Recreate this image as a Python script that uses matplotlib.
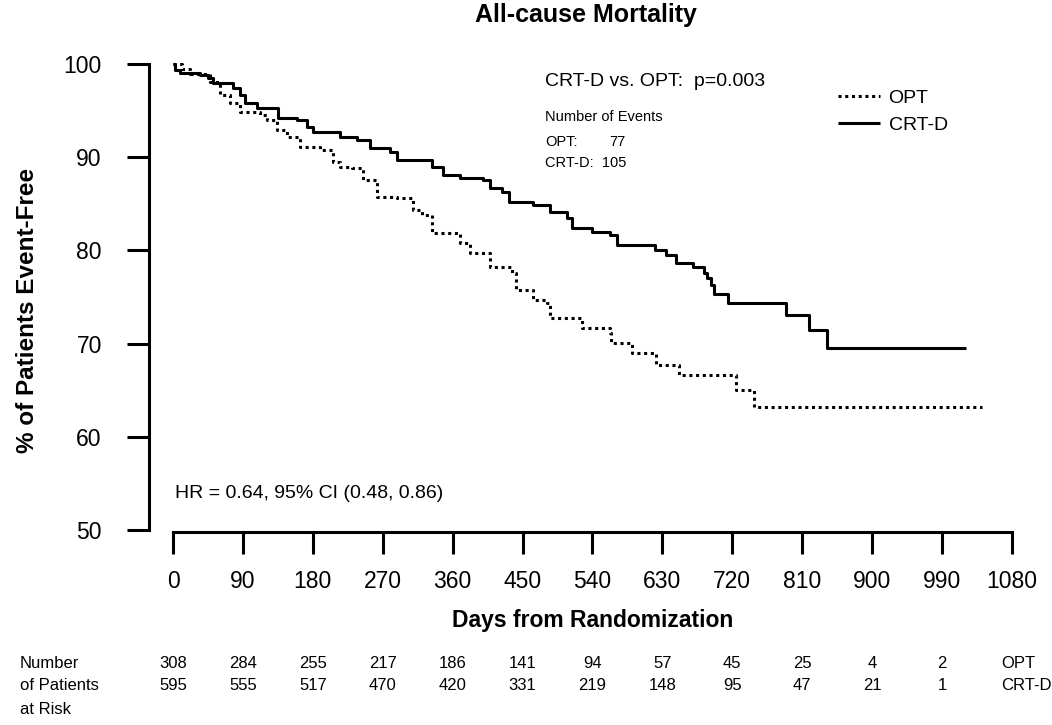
import matplotlib
matplotlib.use("Agg")
import matplotlib.pyplot as plt
from matplotlib.lines import Line2D
import matplotlib.transforms as mtrans

plt.rcParams['font.family'] = ['Liberation Sans Narrow', 'Liberation Sans', 'DejaVu Sans']

# ---- data ----
title = "All-cause Mortality"
x_ticks = [0, 90, 180, 270, 360, 450, 540, 630, 720, 810, 900, 990, 1080]
y_ticks = [50, 60, 70, 80, 90, 100]

crtd_days = [0, 2.6, 9, 35, 45, 51, 77, 86, 93, 108, 135, 159, 172, 180, 215, 237, 253, 279, 288, 334,
             347, 369, 399, 408, 424, 433, 463, 485, 507, 513, 540, 562, 572, 620, 635, 647, 669, 684, 688, 693,
             697, 714, 789, 819, 842, 1021]
crtd_vals = [100, 99.3, 99.0, 98.8, 98.5, 98.0, 97.4, 96.7, 95.8, 95.3, 94.2, 94.0, 93.2, 92.7, 92.2, 91.8, 91.0, 90.6, 89.7, 88.9,
             88.1, 87.8, 87.6, 86.7, 86.3, 85.2, 84.9, 84.1, 83.5, 82.4, 82.0, 81.7, 80.6, 80.0, 79.5, 78.6, 78.2, 77.6, 77.0, 76.3,
             75.3, 74.4, 73.1, 71.5, 69.5, 69.5]

opt_days = [0, 12, 22, 48, 60, 73, 86, 112, 121, 134, 147, 163, 189, 206, 215, 231, 244, 262, 288, 309,
            321, 334, 369, 382, 408, 437, 442, 463, 481, 485, 527, 562, 564, 591, 622, 652, 725, 748, 1041]
opt_vals = [100, 99.5, 98.9, 98.1, 96.7, 95.8, 94.8, 94.5, 94.0, 92.9, 92.2, 91.1, 90.8, 89.5, 88.9, 88.8, 87.6, 85.7, 85.6, 84.3,
            83.8, 81.9, 80.8, 79.7, 78.2, 77.6, 75.8, 74.7, 74.4, 72.7, 71.7, 71.1, 70.1, 69.0, 67.7, 66.6, 65.0, 63.2, 63.2]

risk_days = [0, 90, 180, 270, 360, 450, 540, 630, 720, 810, 900, 990]
risk_opt = [308, 284, 255, 217, 186, 141, 94, 57, 45, 25, 4, 2]
risk_crtd = [595, 555, 517, 470, 420, 331, 219, 148, 95, 47, 21, 1]

events_opt = 77
events_crtd = 105

# ---- figure ----
W, H = 1052, 725
fig = plt.figure(figsize=(W / 100, H / 100), dpi=100)

def fx(px):
    return px / W

def fy(py):
    return 1 - py / H

ax_l, ax_r, ax_t, ax_b = 149, 1014, 62, 532
ax = fig.add_axes([fx(ax_l), fy(ax_b), fx(ax_r - ax_l), (ax_b - ax_t) / H])
ax.set_xlim(-30.9, 1082.6)
ax.set_ylim(49.79, 100.21)

for s in ['top', 'right']:
    ax.spines[s].set_visible(False)
ax.spines['left'].set_bounds(50, 100)
ax.spines['bottom'].set_bounds(0, 1080)
for s in ['left', 'bottom']:
    ax.spines[s].set_linewidth(2.2)
    ax.spines[s].set_capstyle('projecting')

ax.set_xticks(x_ticks)
ax.set_yticks(y_ticks)
ax.tick_params(axis='both', direction='out', length=16, width=2.2, labelsize=16.5)
ax.tick_params(axis='y', pad=18)
ax.tick_params(axis='x', pad=11)

ax.step(crtd_days, crtd_vals, where='post', color='black', lw=2.2, solid_capstyle='butt', label='CRT-D')
ax.step(opt_days, opt_vals, where='post', color='black', lw=2.2, linestyle=(0, (1, 1.2)),
        dash_capstyle='butt', label='OPT')

# titles / labels
fig.text(fx(586), fy(15), title, ha='center', va='center', fontsize=18, fontweight='bold')
fig.text(fx(28), fy(310), "% of Patients Event-Free", ha='center', va='center', rotation=90,
         fontsize=17.5, fontweight='bold')
fig.text(fx(593), fy(621), "Days from Randomization", ha='center', va='center', fontsize=16.5, fontweight='bold')

# annotations
fig.text(fx(545), fy(82), "CRT-D vs. OPT:  p=0.003", ha='left', va='center', fontsize=14)
fig.text(fx(545), fy(117), "Number of Events", ha='left', va='center', fontsize=10.5)
fig.text(fx(545), fy(142), "OPT:", ha='left', va='center', fontsize=10.5)
fig.text(fx(609), fy(142), f"{events_opt}", ha='left', va='center', fontsize=10.5)
fig.text(fx(545), fy(163), f"CRT-D:  {events_crtd}", ha='left', va='center', fontsize=10.5)
fig.text(fx(175), fy(493), "HR = 0.64, 95% CI (0.48, 0.86)", ha='left', va='center', fontsize=14)

# legend
handles = [Line2D([], [], color='black', lw=2.2, linestyle=(0, (1, 1.2)), dash_capstyle='butt'),
           Line2D([], [], color='black', lw=2.2, solid_capstyle='butt')]
ax.legend(handles, ['OPT', 'CRT-D'], loc='upper left', bbox_to_anchor=(fx(838), fy(89)),
          bbox_transform=fig.transFigure, frameon=False, fontsize=14, handlelength=2.15,
          handletextpad=0.45, labelspacing=0.5, borderpad=0, borderaxespad=0)

# risk table
trans = mtrans.blended_transform_factory(ax.transData, fig.transFigure)
for d, a, b in zip(risk_days, risk_opt, risk_crtd):
    ax.text(d, fy(663), str(a), transform=trans, ha='center', va='center', fontsize=12, clip_on=False)
    ax.text(d, fy(686), str(b), transform=trans, ha='center', va='center', fontsize=12, clip_on=False)
fig.text(fx(20), fy(663), "Number", ha='left', va='center', fontsize=12)
fig.text(fx(20), fy(686), "of Patients", ha='left', va='center', fontsize=12)
fig.text(fx(20), fy(709), "at Risk", ha='left', va='center', fontsize=12)
fig.text(fx(1001), fy(663), "OPT", ha='left', va='center', fontsize=12)
fig.text(fx(1001), fy(686), "CRT-D", ha='left', va='center', fontsize=12)

fig.savefig("out.png", dpi=100)
